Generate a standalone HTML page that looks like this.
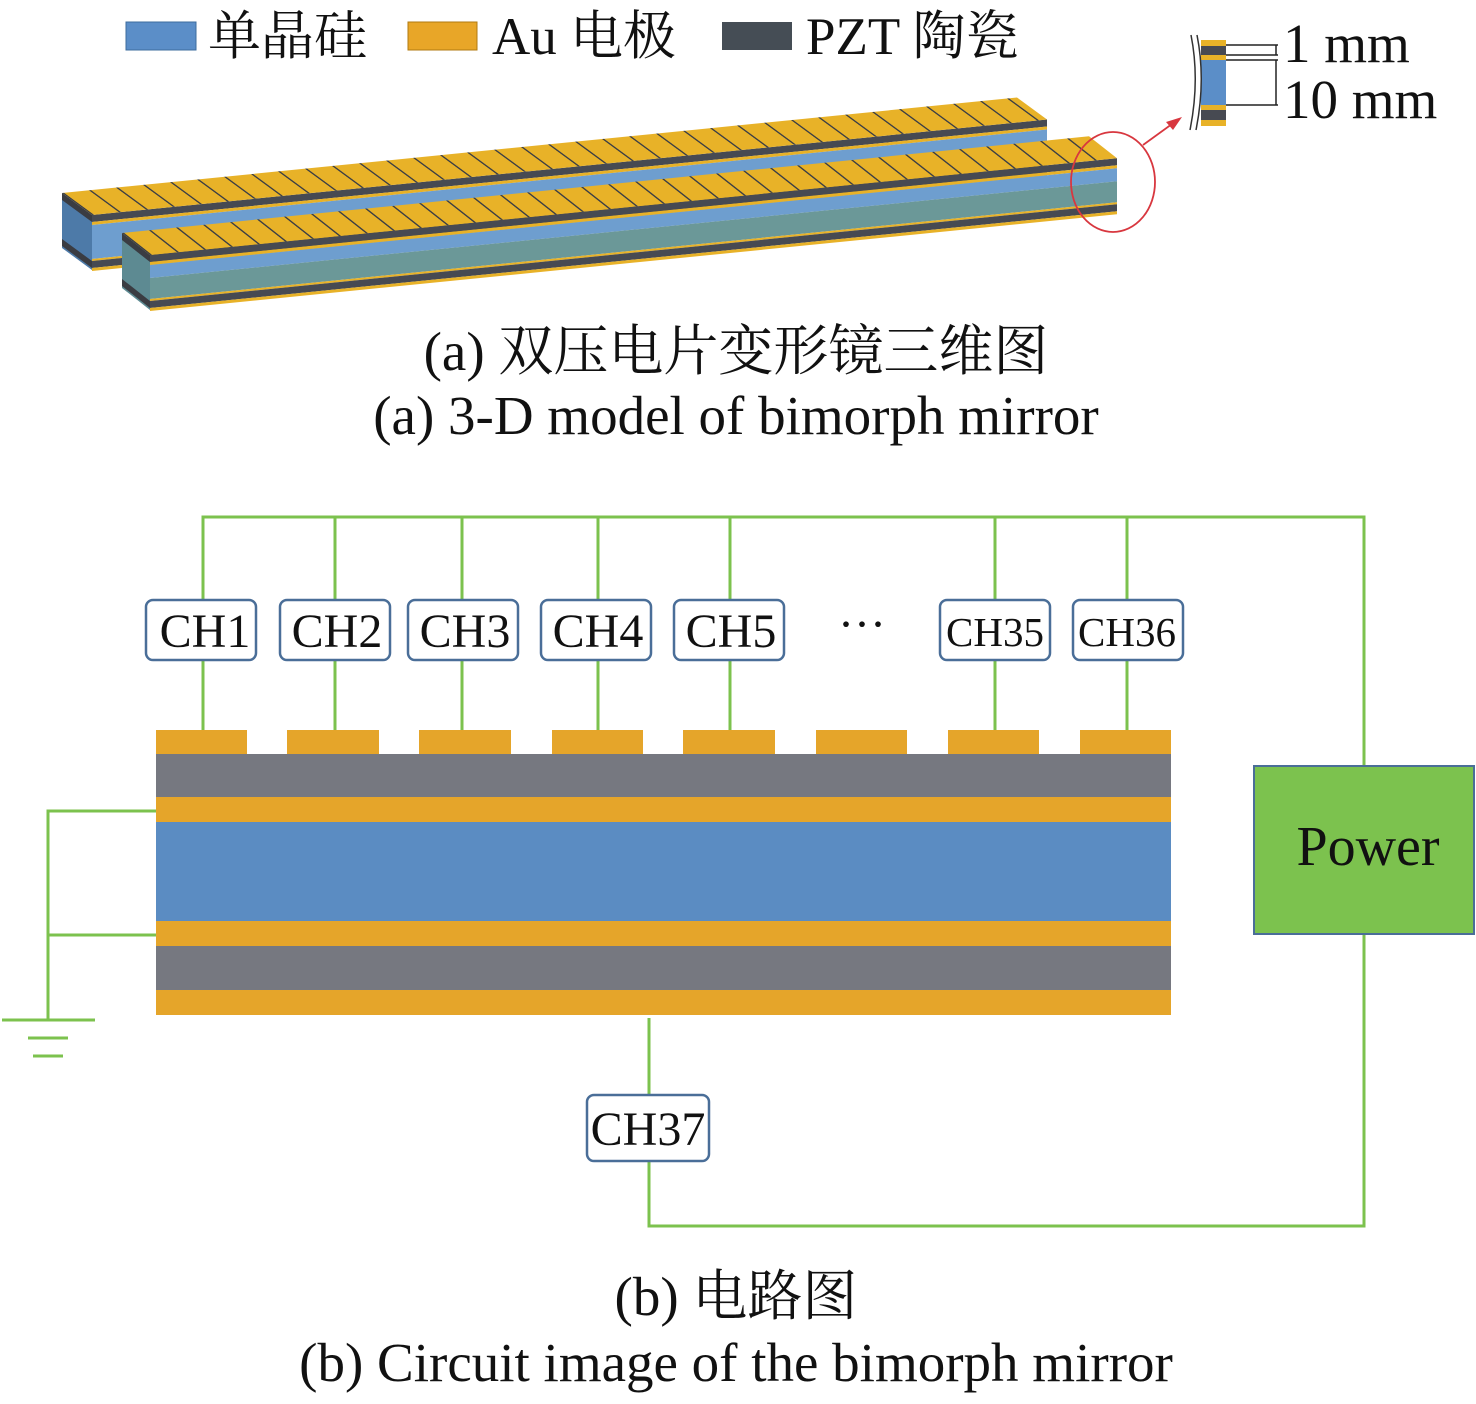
<!DOCTYPE html>
<html><head><meta charset="utf-8"><style>
html,body{margin:0;padding:0;background:#fff;}
svg{display:block}
text{font-family:"Liberation Serif","Noto Serif CJK SC",serif;fill:#111;}
</style></head><body>
<svg width="1476" height="1404" viewBox="0 0 1476 1404" xmlns="http://www.w3.org/2000/svg">
<defs>
<pattern id="pads" patternUnits="userSpaceOnUse" width="27" height="2">
<rect x="0" y="0" width="27" height="2" fill="#e8b228"/>
<rect x="0" y="0" width="2" height="2" fill="#3d3f44"/>
</pattern>
</defs>
<!-- Legend -->
<rect x="126" y="22" width="70" height="28" fill="#5b8ec8" stroke="#3d6c9e" stroke-width="1"/>
<text x="208" y="54" font-size="53">单晶硅</text>
<rect x="408" y="22" width="69" height="28" fill="#e8a628" stroke="#b07a10" stroke-width="1"/>
<text x="492" y="54" font-size="53">Au 电极</text>
<rect x="722" y="22" width="70" height="28" fill="#454d55"/>
<text x="806" y="54" font-size="53">PZT 陶瓷</text>

<!-- Back bar -->
<g transform="matrix(-30,-22,0,1,92,215)">
<rect x="0" y="0" width="1" height="55" fill="#4d7aa8"/>
<rect x="0" y="0" width="1" height="7" fill="#3a3c42"/>
<rect x="0" y="46" width="1" height="7" fill="#3a3c42"/>
</g>
<g transform="matrix(1,-0.1,0,1,92,215)">
<rect x="0" y="0" width="955" height="7" fill="#474a52"/>
<rect x="0" y="7" width="955" height="3" fill="#e8b228"/>
<rect x="0" y="10" width="955" height="34" fill="#6e9ecf"/>
<rect x="0" y="44" width="955" height="2" fill="#e8b228"/>
<rect x="0" y="46" width="955" height="7" fill="#474a52"/>
<rect x="0" y="53" width="955" height="3" fill="#e8b228"/>
</g>
<g transform="matrix(1,-0.1,-30,-22,92,215)">
<rect x="0" y="0" width="955" height="1" fill="url(#pads)"/>
</g>
<!-- Front bar -->
<g transform="matrix(-28,-22,0,1,150,255)">
<rect x="0" y="0" width="1" height="55" fill="#5d8a92"/>
<rect x="0" y="0" width="1" height="7" fill="#3a3c42"/>
<rect x="0" y="46" width="1" height="7" fill="#3a3c42"/>
</g>
<g transform="matrix(1,-0.1,0,1,150,255)">
<rect x="0" y="0" width="967" height="7" fill="#474a52"/>
<rect x="0" y="7" width="967" height="3" fill="#e8b228"/>
<rect x="0" y="10" width="967" height="13" fill="#6e9ecf"/>
<rect x="0" y="23" width="967" height="21" fill="#6b9898"/>
<rect x="0" y="44" width="967" height="2" fill="#e8b228"/>
<rect x="0" y="46" width="967" height="7" fill="#474a52"/>
<rect x="0" y="53" width="967" height="3" fill="#e8b228"/>
</g>
<g transform="matrix(1,-0.1,-28,-22,150,255)">
<rect x="0" y="0" width="967" height="1" fill="url(#pads)"/>
</g>

<!-- red circle + arrow -->
<ellipse cx="1113" cy="182" rx="42" ry="50" fill="none" stroke="#d8373f" stroke-width="1.8"/>
<line x1="1143" y1="145" x2="1172" y2="124" stroke="#d8373f" stroke-width="1.8"/>
<polygon points="1182,117 1166,122 1173,130" fill="#d8373f"/>

<!-- inset -->
<rect x="1201" y="40" width="25" height="6" fill="#e8b228"/>
<rect x="1201" y="46" width="25" height="9" fill="#474a52"/>
<rect x="1201" y="55" width="25" height="5" fill="#e8b228"/>
<rect x="1201" y="60" width="25" height="45" fill="#5b8ec8"/>
<rect x="1201" y="105" width="25" height="5" fill="#e8b228"/>
<rect x="1201" y="110" width="25" height="10" fill="#474a52"/>
<rect x="1201" y="120" width="25" height="6" fill="#e8b228"/>
<path d="M1191 35 Q1200 80 1190 130 M1197 35 Q1206 80 1196 130" fill="none" stroke="#333" stroke-width="1.5"/>
<g stroke="#222" stroke-width="1.5" fill="none">
<line x1="1226" y1="45" x2="1278" y2="45"/>
<line x1="1226" y1="55" x2="1278" y2="55"/>
<line x1="1226" y1="60" x2="1278" y2="60"/>
<line x1="1226" y1="105" x2="1278" y2="105"/>
<line x1="1276" y1="45" x2="1276" y2="55"/>
<line x1="1276" y1="60" x2="1276" y2="105"/>
</g>
<text x="1283" y="62" font-size="55">1 mm</text>
<text x="1283" y="118" font-size="55">10 mm</text>

<text x="736" y="370" font-size="55" text-anchor="middle">(a) 双压电片变形镜三维图</text>
<text x="736" y="434" font-size="55" text-anchor="middle">(a) 3-D model of bimorph mirror</text>

<!-- circuit -->
<g stroke="#7cc24e" stroke-width="3" fill="none">
<polyline points="203,730 203,517 1364,517 1364,766"/>
<line x1="335" y1="517" x2="335" y2="730"/>
<line x1="462" y1="517" x2="462" y2="730"/>
<line x1="598" y1="517" x2="598" y2="730"/>
<line x1="730" y1="517" x2="730" y2="730"/>
<line x1="995" y1="517" x2="995" y2="730"/>
<line x1="1127" y1="517" x2="1127" y2="730"/>
<polyline points="156,811 48,811 48,1020"/>
<line x1="48" y1="935" x2="156" y2="935"/>
<line x1="2" y1="1020" x2="95" y2="1020"/>
<line x1="28" y1="1038" x2="68" y2="1038"/>
<line x1="33" y1="1056" x2="63" y2="1056"/>
<polyline points="649,1018 649,1226 1364,1226 1364,934"/>
</g>
<!-- layers -->
<g fill="#e5a52a">
<rect x="156" y="730" width="91" height="25"/>
<rect x="287" y="730" width="92" height="25"/>
<rect x="419" y="730" width="92" height="25"/>
<rect x="552" y="730" width="91" height="25"/>
<rect x="683" y="730" width="92" height="25"/>
<rect x="816" y="730" width="91" height="25"/>
<rect x="948" y="730" width="91" height="25"/>
<rect x="1080" y="730" width="91" height="25"/>
</g>
<rect x="156" y="754" width="1015" height="43" fill="#767880"/>
<rect x="156" y="797" width="1015" height="25" fill="#e5a52a"/>
<rect x="156" y="822" width="1015" height="99" fill="#5b8cc2"/>
<rect x="156" y="921" width="1015" height="25" fill="#e5a52a"/>
<rect x="156" y="946" width="1015" height="44" fill="#767880"/>
<rect x="156" y="990" width="1015" height="25" fill="#e5a52a"/>

<!-- CH boxes -->
<g fill="#fff" stroke="#4a6e98" stroke-width="2.5">
<rect x="146" y="600" width="110" height="60" rx="7"/>
<rect x="280" y="600" width="110" height="60" rx="7"/>
<rect x="408" y="600" width="110" height="60" rx="7"/>
<rect x="541" y="600" width="110" height="60" rx="7"/>
<rect x="674" y="600" width="110" height="60" rx="7"/>
<rect x="940" y="600" width="110" height="60" rx="7"/>
<rect x="1073" y="600" width="110" height="60" rx="7"/>
<rect x="587" y="1095" width="122" height="66" rx="7"/>
</g>
<g font-size="48" text-anchor="middle">
<text x="205" y="647">CH1</text>
<text x="337" y="647">CH2</text>
<text x="465" y="647">CH3</text>
<text x="598" y="647">CH4</text>
<text x="731" y="647">CH5</text>
<text x="995" y="646" font-size="41">CH35</text>
<text x="1127" y="646" font-size="41">CH36</text>
<text x="648" y="1145">CH37</text>
<text x="862" y="640">···</text>
</g>
<rect x="1254" y="766" width="220" height="168" fill="#7cc24e" stroke="#4a6e98" stroke-width="2"/>
<text x="1368" y="865" font-size="56" text-anchor="middle">Power</text>

<text x="736" y="1315" font-size="55" text-anchor="middle">(b) 电路图</text>
<text x="736" y="1381" font-size="55" text-anchor="middle">(b) Circuit image of the bimorph mirror</text>
</svg>
</body></html>
